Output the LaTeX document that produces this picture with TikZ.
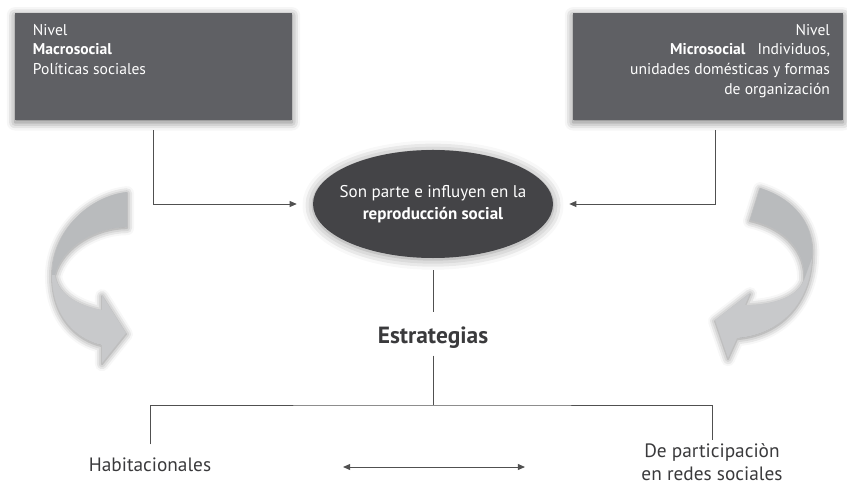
\documentclass[tikz,border=0pt]{standalone}
\usepackage{fontspec}
\setmainfont{PT Sans}
\usepackage{tikz}
\usetikzlibrary{positioning, shapes.geometric, arrows.meta, shadows.blur}
\definecolor{boxGray}{HTML}{5F6064}
\definecolor{ellGray}{HTML}{444447}
\definecolor{lineGray}{HTML}{505050}
\definecolor{textGray}{HTML}{3A3A3C}
\definecolor{arrowDark}{HTML}{B9BBBD}
\definecolor{arrowLight}{HTML}{C8C9CB}
\tikzstyle{levelBox}=[fill=boxGray, minimum height=3.21cm, inner sep=0pt, blur shadow={shadow xshift=0pt, shadow yshift=-2pt, shadow blur radius=7pt, shadow opacity=55}]
\tikzstyle{levelText}=[text=white, font=\fontsize{13.3}{17}\selectfont, inner sep=0pt]
\tikzstyle{centerNode}=[ellipse, fill=ellGray, minimum width=7.2cm, minimum height=3.24cm, inner sep=0pt, blur shadow={shadow xshift=0pt, shadow yshift=-1pt, shadow blur radius=9pt, shadow opacity=45}]
\tikzstyle{centerText}=[text=white, align=center, font=\fontsize{14.5}{19}\selectfont, inner sep=0pt]
\tikzstyle{connector}=[-{Triangle[length=6pt,width=5pt]}, draw=lineGray, line width=0.8pt]
\tikzstyle{plainLine}=[draw=lineGray, line width=0.8pt]
\tikzstyle{bothWays}=[{Triangle[length=6pt,width=5pt]}-{Triangle[length=6pt,width=5pt]}, draw=lineGray, line width=0.8pt]
\tikzstyle{branchText}=[text=textGray, font=\fontsize{16.5}{20}\selectfont, align=center, inner sep=0pt]
\tikzstyle{turnArrow}=[fill=arrowLight, blur shadow={shadow xshift=0pt, shadow yshift=-1pt, shadow blur radius=6pt, shadow opacity=50}]

\begin{document}
\begin{tikzpicture}[x=0.03cm, y=-0.03cm]

    \useasboundingbox (0,0) rectangle (847,486);

    % level boxes
    \node[levelBox, minimum width=8.31cm] (macro) at (153.5,66.5) {};
    \node[levelBox, minimum width=8.1cm] (micro) at (708,66.5) {};
    \node[levelText, align=left, anchor=north west] (macroText) at ([xshift=0.54cm, yshift=-0.33cm]macro.north west) {Nivel\\\textbf{Macrosocial}\\Políticas sociales};
    \node[levelText, align=right, anchor=north east] (microText) at ([xshift=-0.39cm, yshift=-0.33cm]micro.north east) {Nivel\\\textbf{Microsocial}\enspace\ Individuos,\\unidades domésticas y formas\\de organización};

    \node[centerNode] (social) at (433,204) {};
    \node[centerText] (socialText) at (social.center) {Son parte e influyen en la\\\textbf{reproducción social}};

    % curved arrows
    \fill[turnArrow] (127,192) .. controls (90,196) and (52,230) .. (52,275)
        .. controls (52,318) and (78,340) .. (102,345) -- (102,363) -- (126,333) -- (102,295) -- (102,310)
        .. controls (80,306) and (58,295) .. (55,275) .. controls (63,245) and (98,227) .. (127,227) -- cycle;
    \fill[arrowDark] (127,192) .. controls (90,196) and (52,230) .. (52,275) -- (55,275)
        .. controls (63,245) and (98,227) .. (127,227) -- cycle;
    \fill[turnArrow] (760,188) .. controls (798,200) and (815,228) .. (812,258)
        .. controls (810,305) and (778,335) .. (737,338) -- (728,358) -- (715,320) -- (750,293) -- (745,305)
        .. controls (775,305) and (798,296) .. (804,280) .. controls (806,252) and (786,228) .. (750,220) -- cycle;
    \fill[arrowDark] (760,188) .. controls (798,200) and (815,228) .. (812,258) -- (804,280)
        .. controls (806,252) and (786,228) .. (750,220) -- cycle;

    \draw[connector, shorten >=0.48cm] ([yshift=-0.3cm]macro.south) |- (social.west);
    \draw[connector, shorten >=0.48cm] ([xshift=0.21cm, yshift=-0.3cm]micro.south) |- (social.east);

    \node[text=textGray, font=\fontsize{20}{24}\selectfont\bfseries, inner sep=0pt] (estr) at (433,338) {Estrategias};
    \node[branchText] (habit) at (150,465) {Habitacionales};
    \node[branchText] (redes) at (712,462) {De participaciòn\\en redes sociales};
    \coordinate (split) at (433,405);
    \coordinate (leftEnd) at (343,467);
    \coordinate (rightEnd) at (525,467);

    \draw[plainLine, shorten <=0.36cm, shorten >=0.45cm] (social.south) -- (estr.north);
    \draw[plainLine, shorten <=0.2cm] (estr.south) -- (split);
    \draw[plainLine, shorten <=0.4cm, shorten >=0.1cm] (habit.north) |- (split) -| (redes.north);
    \draw[bothWays] (leftEnd) -- (rightEnd);

\end{tikzpicture}
\end{document}
